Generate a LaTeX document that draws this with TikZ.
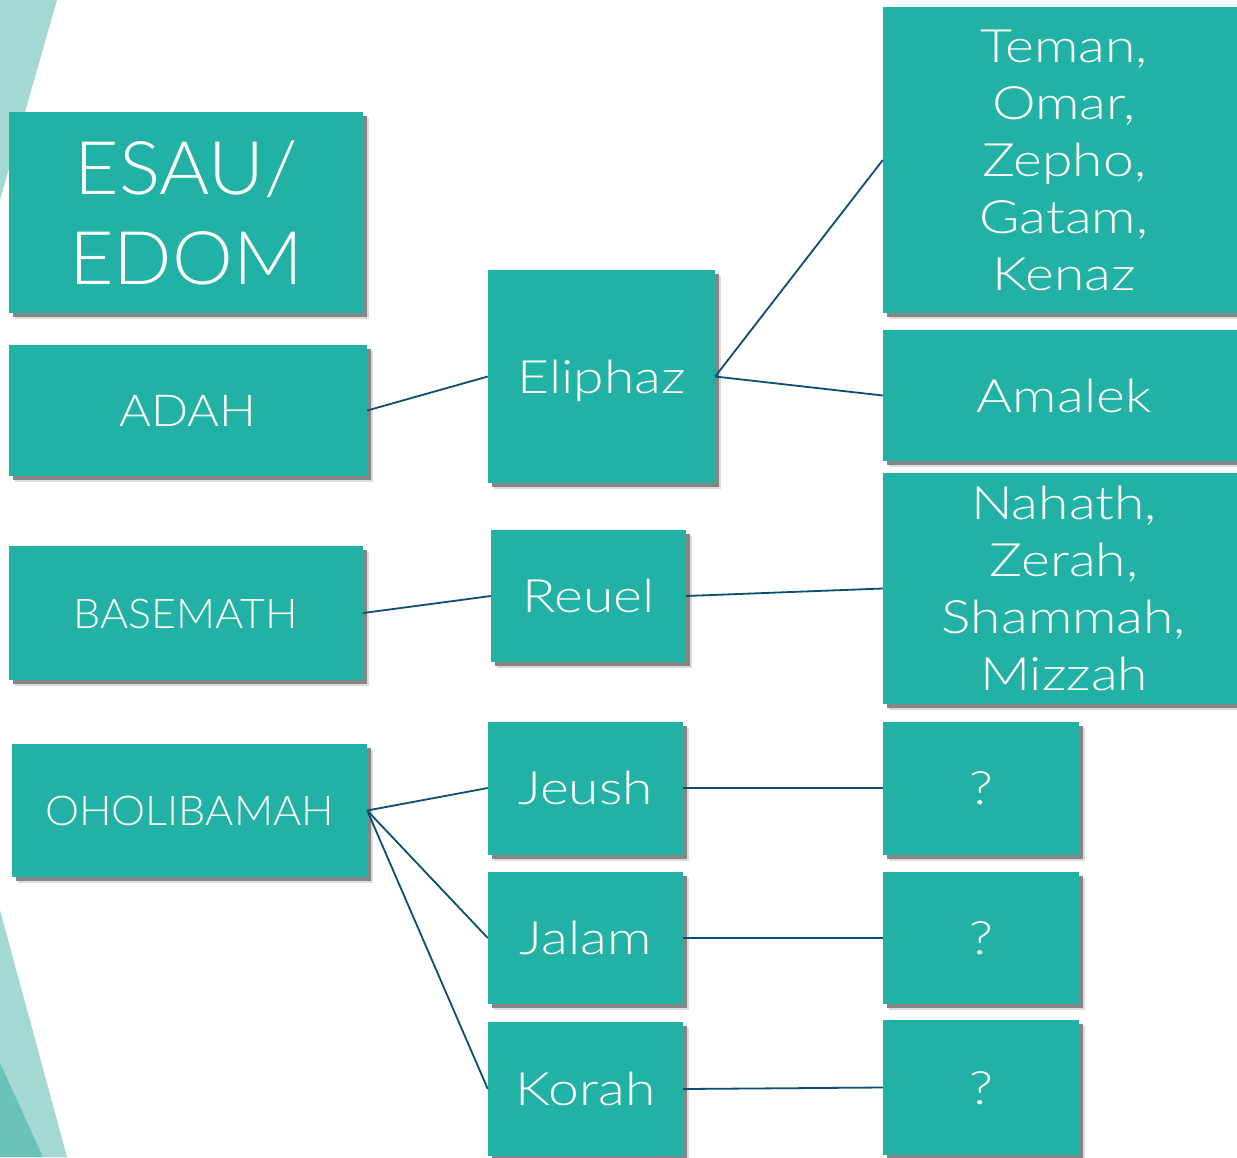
\documentclass[tikz,border=0pt]{standalone}
\usepackage{fontspec}
\setmainfont{Lato}[UprightFont=* Light]
\usetikzlibrary{shadows}

\definecolor{boxteal}{RGB}{34,178,165}
\definecolor{linkblue}{RGB}{12,78,115}
\definecolor{paleteal}{RGB}{163,217,210}
\definecolor{deepteal}{RGB}{108,194,184}

\begin{document}
\begin{tikzpicture}[x=1pt, y=-1pt]
		% Node style
		\tikzset{box style/.style={rectangle,
								fill=boxteal,
								text=white,
								inner sep=0pt,
								align=center,
								drop shadow={shadow xshift=6pt, shadow yshift=-6pt,
									fill=black!14, opacity=1},
								drop shadow={shadow xshift=4pt, shadow yshift=-4pt,
									fill=black!48, opacity=1}},
				caps text/.style 2 args={font=\fontsize{#1}{50}\selectfont\addfontfeatures{FakeStretch=#2}},
				name text/.style={font=\fontsize{46}{57}\selectfont\addfontfeatures{FakeStretch=1.2}},
				one line/.style={text height=#1, text depth=0pt},
				link style/.style={draw=linkblue, line width=1.8pt}}
		
		% Frame and corner bands
		\useasboundingbox[fill=white] (0, 0) rectangle (1237, 1157);
		\fill[paleteal] (0, 0) -- (57, 0) -- (0, 200) -- cycle;
		\fill[paleteal] (0, 910) -- (67, 1157) -- (0, 1157) -- cycle;
		\fill[deepteal] (0, 1063) -- (43, 1157) -- (0, 1157) -- cycle;
		
		% Draw nodes
		\node[box style, minimum width=354, minimum height=201,
			font=\fontsize{74}{90}\selectfont\addfontfeatures{FakeStretch=1.04}]
											at (186, 212.5) 	(ES) {ESAU/\\EDOM};
		\node[box style, minimum width=358, minimum height=131,
			caps text={44}{1.11}, one line=32pt]
											at (188, 410.5) 	(AD) {ADAH};
		\node[box style, minimum width=354, minimum height=134,
			caps text={41}{1.05}, one line=30pt] 	at (186, 613) 		(BA) {BASEMATH};
		\node[box style, minimum width=355, minimum height=133,
			caps text={41}{1.05}, one line=30pt] 	at (189.5, 810.5) 	(OH) {OHOLIBAMAH};
		
		\node[box style, minimum width=227, minimum height=213,
			name text, one line=33pt] 		at (601.5, 376.5) 	(EL) {Eliphaz};
		\node[box style, minimum width=195, minimum height=132,
			name text, one line=33pt] 		at (588.5, 596) 	(RE) {Reuel};
		\node[box style, minimum width=195, minimum height=133,
			name text, one line=33pt] 		at (585.5, 788) 	(JE) {Jeush};
		\node[box style, minimum width=195, minimum height=132,
			name text, one line=33pt] 		at (585.5, 938) 	(JA) {Jalam};
		\node[box style, minimum width=195, minimum height=134,
			name text, one line=33pt] 		at (585.5, 1089) 	(KO) {Korah};
		
		\node[box style, minimum width=362, minimum height=306,
			name text] 						at (1064, 160) 		(TE) {Teman,\\Omar,\\Zepho,\\Gatam,\\Kenaz};
		\node[box style, minimum width=362, minimum height=131,
			name text, one line=33pt] 		at (1064, 395.5) 	(AM) {Amalek};
		\node[box style, minimum width=362, minimum height=231,
			name text] 						at (1064, 588.5) 	(NA) {Nahath,\\Zerah,\\Shammah,\\Mizzah};
		\node[box style, minimum width=196, minimum height=133,
			name text, one line=33pt] 		at (981, 788) 		(Q1) {?};
		\node[box style, minimum width=196, minimum height=132,
			name text, one line=33pt] 		at (981, 938) 		(Q2) {?};
		\node[box style, minimum width=196, minimum height=135,
			name text, one line=33pt] 		at (981, 1087.5) 	(Q3) {?};
		
		% Draw connectors
		\draw[link style]
		(AD.east) edge (EL.west)
		(EL.east) edge (TE.west)
		(EL.east) edge (AM.west)
		(BA.east) edge (RE.west)
		(RE.east) edge (NA.west)
		(OH.east) edge (JE.west)
		(OH.east) edge (JA.west)
		(OH.east) edge (KO.west)
		(JE.east) edge (Q1.west)
		(JA.east) edge (Q2.west)
		(KO.east) edge (Q3.west);
		
	\end{tikzpicture}
\end{document}
